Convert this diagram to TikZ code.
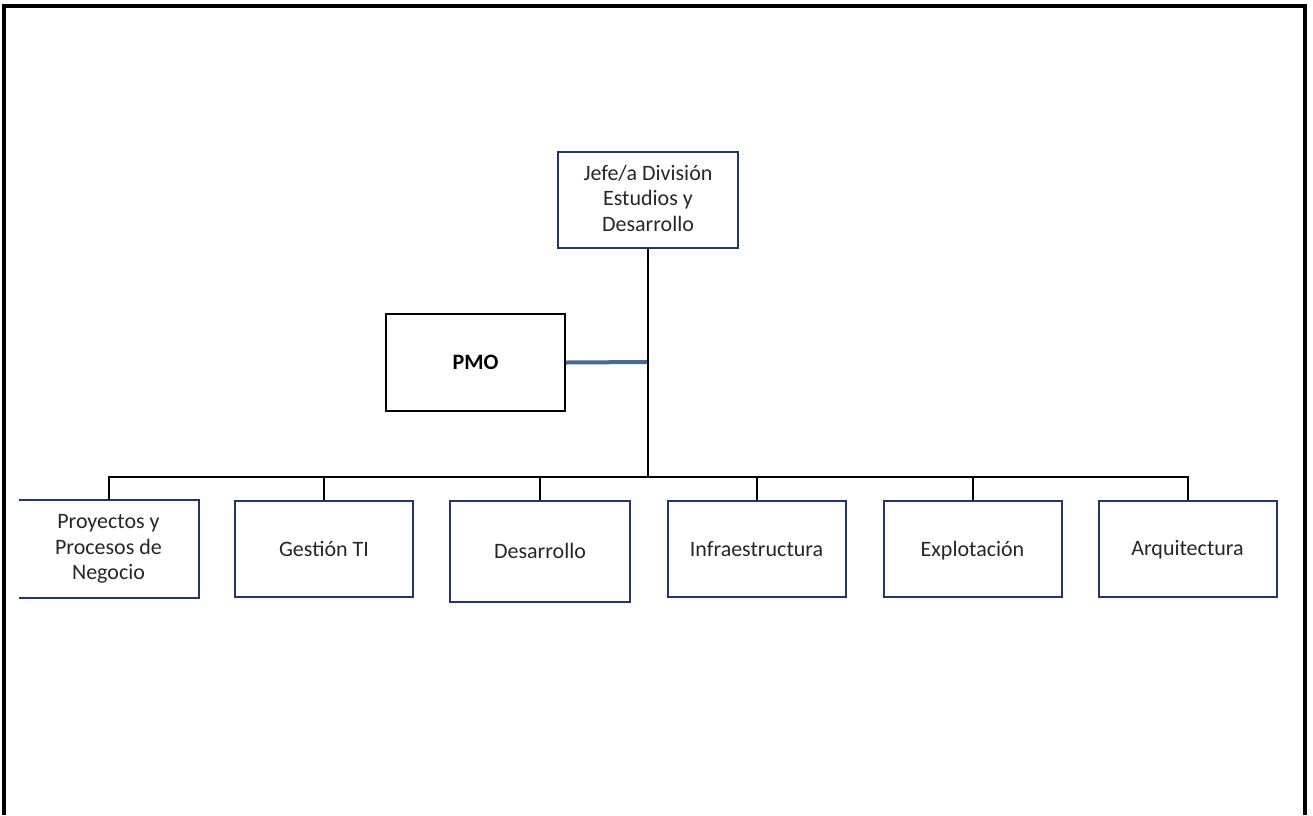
\documentclass[tikz,border=0pt]{standalone}
\usepackage{fontspec}
\setmainfont{Carlito}
\definecolor{navy}{HTML}{1F3864}
\definecolor{pmoblue}{HTML}{4A6A96}
\definecolor{txt}{HTML}{262626}
\begin{document}
\begin{tikzpicture}[x=1pt,y=-1pt,
  unit/.style={draw=navy, line width=2pt, minimum width=178pt, minimum height=96pt,
    inner sep=2pt, align=center, text=txt, font=\fontsize{22}{25.5}\selectfont,
    execute at begin node=\vphantom{Áy}},
  link/.style={draw=black, line width=2pt},
  frame/.style={draw=black, line width=4pt}]
\useasboundingbox (0,0) rectangle (1313,815);
\draw[frame] (4,815) -- (4,5.5) -- (1305,5.5) -- (1305,815);

\node[unit, minimum width=180pt] (jefe) at (648,200) {Jefe/a División\\Estudios y\\Desarrollo};
\node[draw=black, line width=1.8pt, minimum width=179pt, minimum height=97pt, font=\fontsize{22}{25}\selectfont\bfseries, text=black] (pmo) at (475.5,362.5) {PMO};

\node[unit, draw=none] (p1) at (108.5,549) {Proyectos y\\Procesos de\\Negocio};
\draw[navy, line width=2pt] (p1.north west) -- (p1.north east) -- (p1.south east) -- (p1.south west);
\node[unit] (p2) at (324,549) {Gestión TI};
\node[unit, minimum width=180pt, minimum height=101pt] (p3) at (540,551.5) {Desarrollo};
\node[unit] (p4) at (756.5,549) {Infraestructura};
\node[unit] (p5) at (972.5,549) {Explotación};
\node[unit] (p6) at (1187.5,548.5) {Arquitectura};

\coordinate (hub) at (648,362);
\coordinate (bus) at (648,478);
\draw[pmoblue, line width=4pt] (pmo.east) -- (hub);
\draw[link] (jefe.south) -- (hub) -- (bus);
\draw[link] (p1.north) -- ++(0,-23) -| (p6.north);
\foreach \n in {p2,p3,p4,p5} \draw[link] (\n.north) -- (\n.north |- bus);
\end{tikzpicture}
\end{document}
